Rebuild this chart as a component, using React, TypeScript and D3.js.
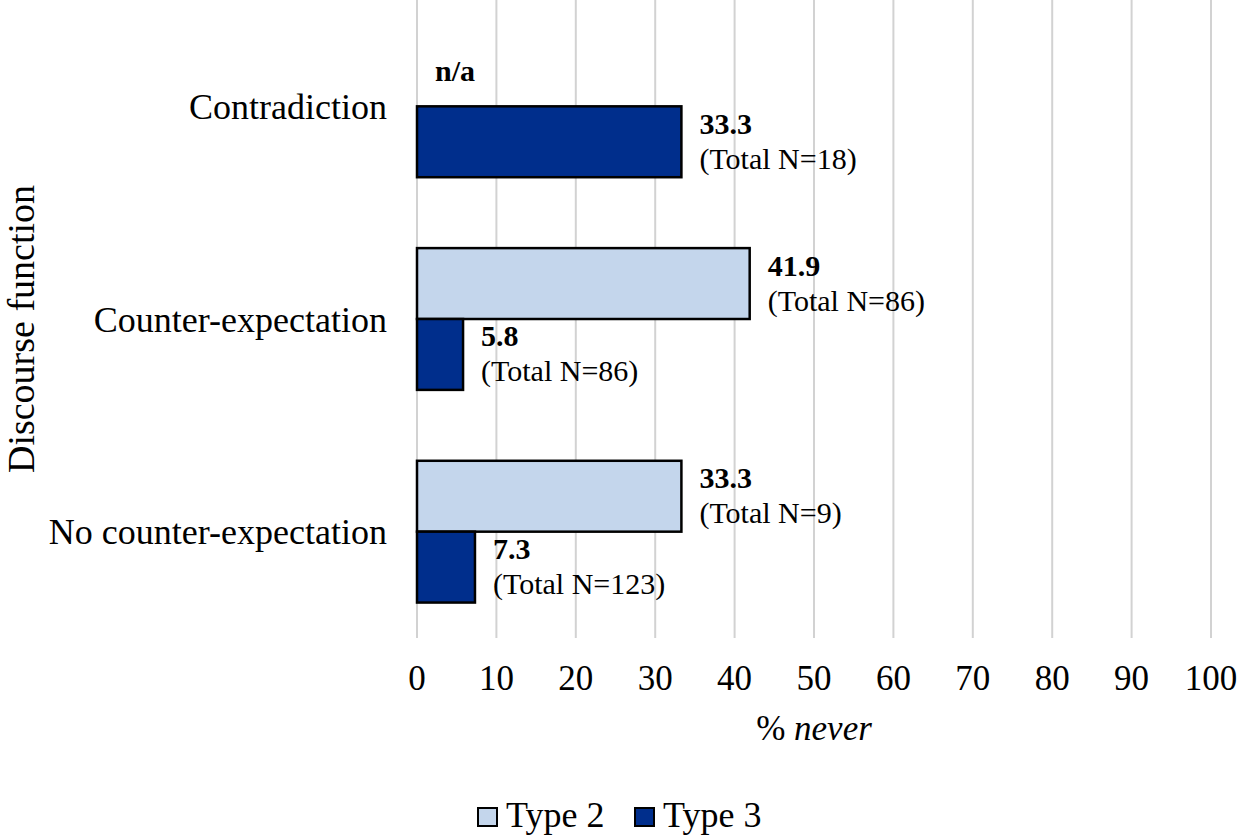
import { useEffect } from "react";
import * as d3 from "d3";

// Discourse function categories (top to bottom)
const CATEGORIES = ["Contradiction", "Counter-expectation", "No counter-expectation"];
const SERIES = ["Type 2", "Type 3"];
const TYPE2_VALUES: (number | null)[] = [null, 41.9, 33.3];
const TYPE2_TOTAL_N: (number | null)[] = [null, 86, 9];
const TYPE3_VALUES: (number | null)[] = [33.3, 5.8, 7.3];
const TYPE3_TOTAL_N: (number | null)[] = [18, 86, 123];
const X_TICKS = [0, 10, 20, 30, 40, 50, 60, 70, 80, 90, 100];

const COLORS: Record<string, string> = {
  "Type 2": "#c4d6ec",
  "Type 3": "#002e8c",
};

const FONT = "'Liberation Serif', 'Times New Roman', Times, serif";

export default function App() {
  useEffect(() => {
    document.body.style.margin = "0";
  }, []);

  const width = 1241;
  const height = 838;
  const plot = { left: 417, right: 1211, top: 0, bottom: 638 };

  const x = d3.scaleLinear().domain([0, 100]).range([plot.left, plot.right]);
  const y = d3
    .scaleBand<string>()
    .domain(CATEGORIES)
    .range([plot.top, plot.bottom])
    .paddingInner(1 / 3)
    .paddingOuter(1 / 6);
  const ySub = d3.scaleBand<string>().domain(SERIES).range([0, y.bandwidth()]);

  const rows = CATEGORIES.flatMap((cat, i) => [
    { cat, series: "Type 2", value: TYPE2_VALUES[i], n: TYPE2_TOTAL_N[i] },
    { cat, series: "Type 3", value: TYPE3_VALUES[i], n: TYPE3_TOTAL_N[i] },
  ]);

  return (
    <svg width={width} height={height} style={{ display: "block", background: "#fff" }} fontFamily={FONT}>
      {/* gridlines */}
      {X_TICKS.map((t) => (
        <line key={`g${t}`} x1={x(t)} x2={x(t)} y1={plot.top} y2={plot.bottom} stroke="#d2d2d2" strokeWidth={2} />
      ))}

      {/* bars */}
      {rows.map((r) => {
        const by = (y(r.cat) ?? 0) + (ySub(r.series) ?? 0);
        const bh = ySub.bandwidth();
        const cy = by + bh / 2;
        if (r.value == null) {
          return (
            <text key={r.cat + r.series} x={x(0) + 18} y={cy} dy="0.35em" fontSize={30} fontWeight="bold" fill="#000">
              n/a
            </text>
          );
        }
        return (
          <g key={r.cat + r.series}>
            <rect
              x={x(0)}
              y={by}
              width={x(r.value) - x(0)}
              height={bh}
              fill={COLORS[r.series]}
              stroke="#000"
              strokeWidth={2.5}
            />
            <text x={x(r.value) + 18} y={cy - 8} fontSize={30} fontWeight="bold" fill="#000">
              {r.value.toFixed(1)}
            </text>
            <text x={x(r.value) + 18} y={cy + 27} fontSize={30} fill="#000">
              {`(Total N=${r.n})`}
            </text>
          </g>
        );
      })}

      {/* category labels */}
      {CATEGORIES.map((c) => (
        <text
          key={c}
          x={387}
          y={(y(c) ?? 0) + y.bandwidth() / 2}
          dy="0.35em"
          textAnchor="end"
          fontSize={36}
          fill="#000"
        >
          {c}
        </text>
      ))}

      {/* x tick labels */}
      {X_TICKS.map((t) => (
        <text key={`t${t}`} x={x(t)} y={690} textAnchor="middle" fontSize={35} fill="#000">
          {t}
        </text>
      ))}

      {/* axis titles */}
      <text x={(plot.left + plot.right) / 2} y={740} textAnchor="middle" fontSize={35} fill="#000">
        {"% "}
        <tspan fontStyle="italic">never</tspan>
      </text>
      <text
        transform={`translate(34,${329}) rotate(-90)`}
        textAnchor="middle"
        fontSize={38}
        fill="#000"
      >
        Discourse function
      </text>

      {/* legend */}
      {SERIES.map((s, i) => {
        const lx = [478, 635][i];
        return (
          <g key={s}>
            <rect x={lx} y={808} width={19} height={18} fill={COLORS[s]} stroke="#000" strokeWidth={2} />
            <text x={lx + 28} y={827} fontSize={36} fill="#000">
              {s}
            </text>
          </g>
        );
      })}
    </svg>
  );
}
